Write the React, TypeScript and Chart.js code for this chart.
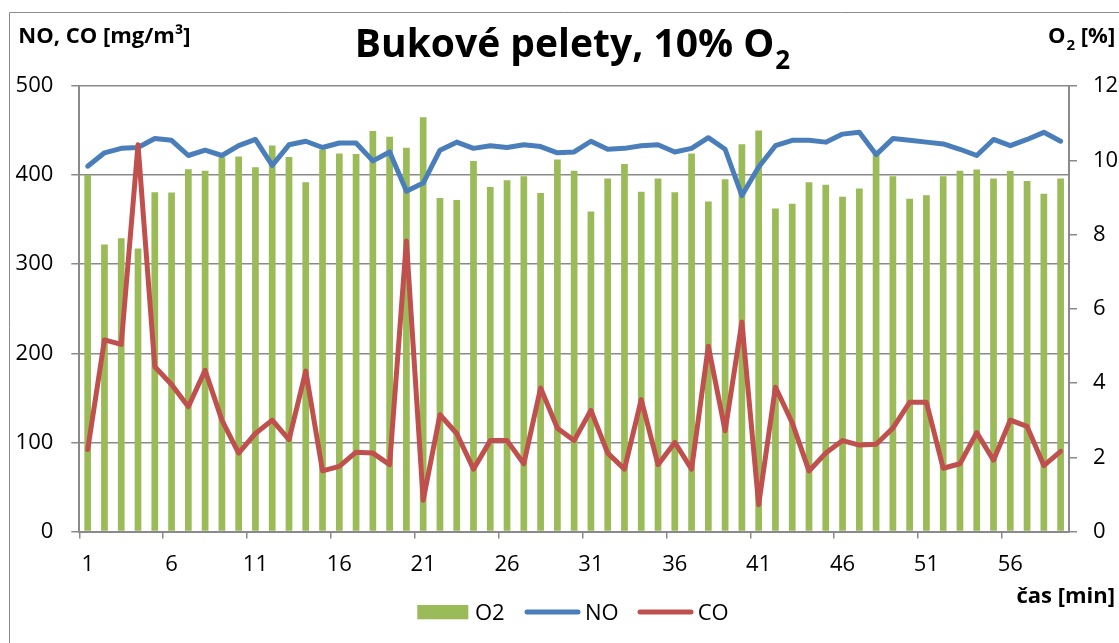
import React, { useEffect, useRef } from 'react';
import { Chart, registerables } from 'chart.js';

Chart.register(...registerables);

// ---------- data ----------
const categories = [
  '1', '2', '3', '4', '5', '6', '7', '8', '9', '10',
  '11', '12', '13', '14', '15', '16', '17', '18', '19', '20',
  '21', '22', '23', '24', '25', '26', '27', '28', '29', '30',
  '31', '32', '33', '34', '35', '36', '37', '38', '39', '40',
  '41', '42', '43', '44', '45', '46', '47', '48', '49', '50',
  '51', '52', '53', '54', '55', '56', '57', '58', '59',
];

const xTickLabels = ['1', '6', '11', '16', '21', '26', '31', '36', '41', '46', '51', '56'];

const o2Values = [
  9.6, 7.73, 7.9, 7.62, 9.14, 9.13, 9.76, 9.72, 10.08, 10.1,
  9.81, 10.4, 10.09, 9.41, 10.29, 10.18, 10.17, 10.79, 10.63, 10.34,
  11.16, 8.98, 8.93, 9.98, 9.28, 9.46, 9.57, 9.12, 10.02, 9.72,
  8.62, 9.51, 9.9, 9.15, 9.51, 9.14, 10.18, 8.89, 9.49, 10.43,
  10.8, 8.7, 8.83, 9.41, 9.34, 9.02, 9.24, 10.16, 9.57, 8.96,
  9.06, 9.57, 9.72, 9.75, 9.51, 9.71, 9.44, 9.1, 9.51,
];

const noValues = [
  410, 425, 430, 431, 441, 439, 422, 428, 422, 433,
  440, 411, 434, 438, 431, 436, 436, 416, 426, 382,
  391, 428, 437, 430, 433, 431, 434, 432, 425, 426,
  438, 429, 430, 433, 434, 426, 430, 442, 429, 377,
  409, 433, 439, 439, 437, 446, 448, 423, 441, 439,
  437, 435, 429, 422, 440, 433, 440, 448, 438,
];

const coValues = [
  92, 215, 210, 434, 185, 165, 140, 181, 125, 88,
  110, 125, 103, 180, 68, 73, 89, 88, 75, 326,
  35, 131, 110, 70, 102, 102, 76, 161, 116, 102,
  136, 88, 70, 148, 75, 100, 70, 208, 113, 235,
  30, 162, 122, 68, 88, 102, 97, 98, 116, 145,
  145, 71, 76, 111, 80, 125, 118, 74, 90,
];

// ---------- styling ----------
const W = 1119;
const H = 643;
const FONT = '"Open Sans", "DejaVu Sans", sans-serif';
const GRID = '#8a8a8a';
const GREEN = '#9BBB59';
const BLUE = '#4A7EBB';
const RED = '#C0504D';

const decorPlugin = {
  id: 'decor',
  afterDraw(chart: any) {
    const ctx = chart.ctx as CanvasRenderingContext2D;
    ctx.save();

    // outer frame
    ctx.strokeStyle = GRID;
    ctx.lineWidth = 1;
    ctx.beginPath();
    ctx.moveTo(9.5, H);
    ctx.lineTo(9.5, 12.5);
    ctx.lineTo(W, 12.5);
    ctx.stroke();

    ctx.fillStyle = '#000';
    ctx.textBaseline = 'alphabetic';
    ctx.textAlign = 'left';

    // main title with subscript
    const main = 'Bukové pelety, 10% O';
    ctx.font = `bold 39px ${FONT}`;
    const mw = ctx.measureText(main).width;
    ctx.font = `bold 26px ${FONT}`;
    const sw = ctx.measureText('2').width;
    const tx = 572.5 - (mw + sw + 1) / 2;
    ctx.font = `bold 39px ${FONT}`;
    ctx.fillText(main, tx, 56.7);
    ctx.font = `bold 26px ${FONT}`;
    ctx.fillText('2', tx + mw + 1, 69);

    // left axis title
    ctx.font = `bold 22px ${FONT}`;
    ctx.fillText('NO, CO [mg/m³]', 18.3, 43.3);

    // right axis title: O2 [%]
    ctx.font = `bold 22px ${FONT}`;
    let rx = 1048;
    ctx.fillText('O', rx, 43.3);
    rx += ctx.measureText('O').width + 1;
    ctx.font = `bold 15px ${FONT}`;
    ctx.fillText('2', rx, 49.5);
    rx += ctx.measureText('2').width;
    ctx.font = `bold 22px ${FONT}`;
    ctx.fillText(' [%]', rx, 43.3);

    // x axis title
    ctx.textAlign = 'right';
    ctx.fillText('čas [min]', 1115, 603.3);

    // legend
    ctx.textAlign = 'left';
    ctx.font = `22px ${FONT}`;
    const ly = 612;
    ctx.fillStyle = GREEN;
    ctx.fillRect(417.3, 605, 51, 14.3);
    ctx.fillStyle = '#000';
    ctx.fillText('O2', 475, 620);

    ctx.lineCap = 'round';
    ctx.lineWidth = 5;
    ctx.strokeStyle = BLUE;
    ctx.beginPath();
    ctx.moveTo(527, ly);
    ctx.lineTo(578, ly);
    ctx.stroke();
    ctx.fillText('NO', 585, 620);

    ctx.strokeStyle = RED;
    ctx.beginPath();
    ctx.moveTo(640, ly);
    ctx.lineTo(691, ly);
    ctx.stroke();
    ctx.fillText('CO', 697.7, 620);

    ctx.restore();
  },
};

export default function App() {
  const canvasRef = useRef<HTMLCanvasElement | null>(null);

  useEffect(() => {
    const canvas = canvasRef.current;
    if (!canvas) return;
    const tickFont = { family: FONT, size: 22 };

    const chart = new Chart(canvas, {
      type: 'bar',
      data: {
        labels: categories,
        datasets: [
          {
            type: 'line',
            label: 'CO',
            data: coValues,
            borderColor: RED,
            backgroundColor: RED,
            borderWidth: 5,
            pointRadius: 0,
            tension: 0,
            borderJoinStyle: 'round',
            borderCapStyle: 'round',
            yAxisID: 'y',
            order: 1,
          },
          {
            type: 'line',
            label: 'NO',
            data: noValues,
            borderColor: BLUE,
            backgroundColor: BLUE,
            borderWidth: 5,
            pointRadius: 0,
            tension: 0,
            borderJoinStyle: 'round',
            borderCapStyle: 'round',
            yAxisID: 'y',
            order: 2,
          },
          {
            type: 'bar',
            label: 'O2',
            data: o2Values,
            backgroundColor: GREEN,
            borderWidth: 0,
            barPercentage: 0.4,
            categoryPercentage: 1,
            yAxisID: 'y1',
            order: 3,
          },
        ],
      } as any,
      options: {
        animation: false,
        responsive: false,
        devicePixelRatio: 1,
        layout: { padding: { top: 86, bottom: 61.5, left: 0, right: 0 } },
        plugins: {
          legend: { display: false },
          tooltip: { enabled: false },
          title: { display: false },
        },
        scales: {
          x: {
            type: 'category',
            offset: true,
            grid: {
              offset: true,
              drawOnChartArea: false,
              drawTicks: true,
              tickLength: 7,
              lineWidth: 1.5,
              color: (c: any) =>
                c.index !== undefined && c.index % 5 === 0 ? GRID : 'rgba(0,0,0,0)',
            },
            border: { color: GRID, width: 2 },
            ticks: {
              autoSkip: false,
              maxRotation: 0,
              minRotation: 0,
              padding: 13,
              font: tickFont,
              color: '#000',
              callback: (_v: any, idx: number) => {
                const l = categories[idx];
                return xTickLabels.includes(l) ? l : '';
              },
            },
            afterFit: (s: any) => {
              s.height = 50;
            },
          },
          y: {
            position: 'left',
            min: 0,
            max: 500,
            ticks: { stepSize: 100, padding: 18, font: tickFont, color: '#000' },
            grid: { color: GRID, lineWidth: 1.5, tickLength: 8 },
            border: { color: GRID, width: 2 },
            afterFit: (s: any) => {
              s.width = 79.3;
            },
          },
          y1: {
            position: 'right',
            min: 0,
            max: 12,
            ticks: { stepSize: 2, padding: 16, font: tickFont, color: '#000' },
            grid: { drawOnChartArea: false, color: GRID, lineWidth: 1.5, tickLength: 8 },
            border: { color: GRID, width: 2 },
            afterFit: (s: any) => {
              s.width = 50;
            },
          },
        },
      } as any,
      plugins: [decorPlugin],
    });

    return () => chart.destroy();
  }, []);

  return (
    <div style={{ position: 'fixed', left: 0, top: 0, width: W, height: H }}>
      <canvas ref={canvasRef} width={W} height={H} style={{ display: 'block' }} />
    </div>
  );
}
